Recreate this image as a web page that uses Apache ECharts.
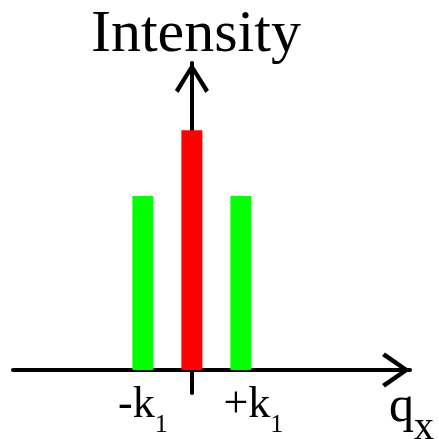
<!DOCTYPE html>
<html><head><meta charset="utf-8">
<script src="https://cdn.jsdelivr.net/npm/echarts@6/dist/echarts.min.js"></script>
<style>html,body{margin:0;padding:0;background:#fff}#c{width:439px;height:439px}</style>
</head><body><div id="c"></div>
<script>
const positions = [-1, 0, 1];
const intensities = [72.5, 100, 72.5];
const barColors = ['#00ff00', '#ff0000', '#00ff00'];
const tickValues = [-1, 1];
const tickLabels = ['-k', '+k'];
const tickSub = '1';
const xName = ['q', 'x'];
const yName = 'Intensity';

const FONT = "'Liberation Serif', 'Times New Roman', serif";
const chevronY = 'path://M17,0 L34,27 L30.5,30 L17,7.5 L3.5,30 L0,27 Z';
const chevronX = 'path://M17.5,0 L35,25 L31.5,28 L17.5,7.5 L3.5,28 L0,25 Z';

const chart = echarts.init(document.getElementById('c'), null, {renderer: 'canvas'});
chart.setOption({
  animation: false,
  backgroundColor: '#fff',
  grid: {left: 13, right: 29, top: 63, bottom: 46, containLabel: false, outerBoundsMode: 'none'},
  xAxis: {
    type: 'value', min: -3.65, max: 4.45,
    splitLine: {show: false},
    axisTick: {show: false},
    axisLine: {onZero: true, lineStyle: {color: '#000', width: 4},
      symbol: ['none', chevronX], symbolSize: [35, 28], symbolOffset: [0, -14]},
    axisLabel: {
      customValues: tickValues, margin: -10,
      formatter: function (v) {
        let i = tickValues.findIndex(t => Math.abs(t - v) < 1e-6);
        if (i < 0) return '';
        return '{' + (i === 0 ? 'm' : 'p') + '|' + tickLabels[i] + '}{s|' + tickSub + '}';
      },
      rich: {
        m: {fontFamily: FONT, fontSize: 44, lineHeight: 44, color: '#000', verticalAlign: 'top'},
        p: {fontFamily: FONT, fontSize: 44, lineHeight: 44, color: '#000', verticalAlign: 'top', padding: [0, 0, 0, 25]},
        s: {fontFamily: FONT, fontSize: 26, lineHeight: 26, color: '#000', verticalAlign: 'top', padding: [29, 0, 0, 0]}
      }
    },
    name: '{q|' + xName[0] + '}{x|' + xName[1] + '}',
    nameLocation: 'end', nameGap: -21,
    nameTextStyle: {
      align: 'left', verticalAlign: 'top',
      rich: {
        q: {fontFamily: FONT, fontSize: 50, lineHeight: 50, color: '#000', verticalAlign: 'top', padding: [13, 0, 0, 0]},
        x: {fontFamily: FONT, fontSize: 40, lineHeight: 40, color: '#000', verticalAlign: 'top', padding: [39, 0, 0, 0]}
      }
    }
  },
  yAxis: {
    type: 'value', min: -9.6, max: 128,
    splitLine: {show: false},
    axisTick: {show: false},
    axisLabel: {show: false},
    axisLine: {onZero: true, lineStyle: {color: '#000', width: 4},
      symbol: ['none', chevronY], symbolSize: [34, 30], symbolOffset: [0, -15]},
    name: yName, nameLocation: 'end', nameGap: -2,
    nameTextStyle: {fontFamily: FONT, fontSize: 60, lineHeight: 60, color: '#000', padding: [0, 0, 0, 8]}
  },
  series: [{
    type: 'bar',
    barWidth: 21,
    data: positions.map((p, i) => ({value: [p, intensities[i]], itemStyle: {color: barColors[i]}}))
  }]
});
</script></body></html>
